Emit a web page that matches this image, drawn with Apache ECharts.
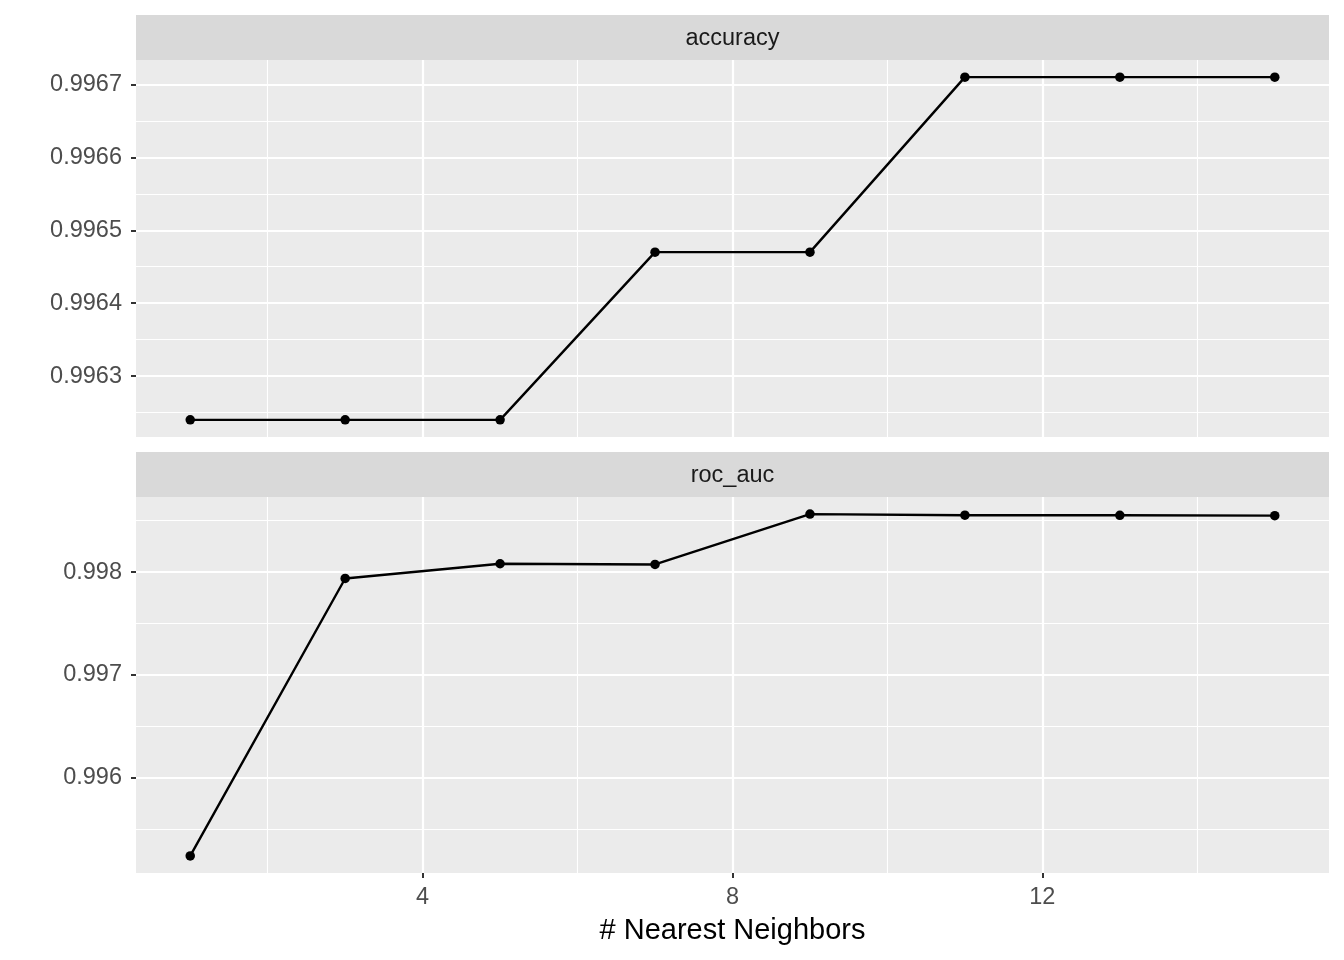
<!DOCTYPE html>
<html>
<head>
<meta charset="utf-8">
<script src="https://cdn.jsdelivr.net/npm/echarts@6/dist/echarts.min.js"></script>
<style>
html,body{margin:0;padding:0;background:#fff;}
#chart{width:1344px;height:960px;}
</style>
</head>
<body>
<div id="chart"></div>
<script>
// ---- data ----
const neighbors = [1, 3, 5, 7, 9, 11, 13, 15];
const accuracy = [0.99624, 0.99624, 0.99624, 0.99647, 0.99647, 0.99671, 0.99671, 0.99671];
const rocAuc = [0.99524, 0.997938, 0.998081, 0.998074, 0.998564, 0.998553, 0.998552, 0.998549];
const panelNames = ['accuracy', 'roc_auc'];
const xMajorTicks = [4, 8, 12];
const xMinorTicks = [2, 6, 10, 14];
const accMajorTicks = [0.9963, 0.9964, 0.9965, 0.9966, 0.9967];
const accMinorTicks = [0.99625, 0.99635, 0.99645, 0.99655, 0.99665];
const rocMajorTicks = [0.996, 0.997, 0.998];
const rocMinorTicks = [0.9955, 0.9965, 0.9975, 0.9985];
const xTitle = '# Nearest Neighbors';

// ---- helpers ----
function expand(arr) {
  const mn = Math.min(...arr), mx = Math.max(...arr);
  const r = mx - mn;
  return [mn - 0.05 * r, mx + 0.05 * r];
}
const xExt = expand(neighbors);
const accExt = expand(accuracy);
const rocExt = expand(rocAuc);

const FONT = 'Liberation Sans, Arial, Helvetica, sans-serif';
const AXFS = 23.5;
const PL = 136, PR = 1329;
const grids = [
  {left: PL, width: PR - PL, top: 60, height: 377},
  {left: PL, width: PR - PL, top: 497, height: 376}
];

function xAxisDef(gridIndex, ticks, major, showLabels) {
  return {
    type: 'value', gridIndex: gridIndex, position: 'bottom', min: xExt[0], max: xExt[1], z: major ? 1 : 0,
    axisLine: {show: false},
    axisTick: {show: major && showLabels, customValues: ticks, length: 5, lineStyle: {color: '#333333', width: 2}},
    axisLabel: {show: major && showLabels, customValues: ticks, margin: 13, color: '#4D4D4D', fontSize: AXFS, fontFamily: FONT},
    splitLine: {show: true, lineStyle: {color: '#FFFFFF', width: major ? 2.2 : 1.1}},
    name: (major && showLabels) ? xTitle : '',
    nameLocation: 'middle', nameGap: 43,
    nameTextStyle: {color: '#000000', fontSize: 29, fontFamily: FONT}
  };
}
function yAxisDef(gridIndex, ext, ticks, major, digits) {
  return {
    type: 'value', gridIndex: gridIndex, min: ext[0], max: ext[1], position: 'left', z: major ? 1 : 0,
    axisLine: {show: false},
    axisTick: {show: major, customValues: ticks, length: 5, lineStyle: {color: '#333333', width: 2}},
    axisLabel: {show: major, customValues: ticks, margin: 14, color: '#4D4D4D', fontSize: AXFS, fontFamily: FONT,
      padding: [2, 0, 0, 0], formatter: v => v.toFixed(digits)},
    splitLine: {show: true, lineStyle: {color: '#FFFFFF', width: major ? 2.2 : 1.1}}
  };
}

const xAxes = [
  xAxisDef(0, xMinorTicks, false, false),
  xAxisDef(0, xMajorTicks, true, false),
  xAxisDef(1, xMinorTicks, false, false),
  xAxisDef(1, xMajorTicks, true, true)
];
const yAxes = [
  yAxisDef(0, accExt, accMinorTicks, false, 4),
  yAxisDef(0, accExt, accMajorTicks, true, 4),
  yAxisDef(1, rocExt, rocMinorTicks, false, 3),
  yAxisDef(1, rocExt, rocMajorTicks, true, 3)
];

function seriesDef(name, vals, xi, yi) {
  return {
    name: name, type: 'line', xAxisIndex: xi, yAxisIndex: yi,
    data: neighbors.map((n, i) => [n, vals[i]]),
    symbol: 'circle', symbolSize: 9.5, showSymbol: true,
    lineStyle: {color: '#000000', width: 2.4},
    itemStyle: {color: '#000000', borderWidth: 0},
    z: 5
  };
}

const strips = grids.map((g, i) => ([
  {type: 'rect', shape: {x: g.left, y: g.top - 45, width: g.width, height: 45}, style: {fill: '#D9D9D9'}, z: 0},
  {type: 'text', x: g.left + g.width / 2, y: g.top - 21,
   style: {text: panelNames[i], fill: '#1A1A1A', font: AXFS + 'px ' + FONT, textAlign: 'center', textVerticalAlign: 'middle'}, z: 1}
])).flat();

const chart = echarts.init(document.getElementById('chart'), null, {renderer: 'canvas'});
chart.setOption({
  animation: false,
  backgroundColor: '#FFFFFF',
  grid: grids.map(g => Object.assign({show: true, backgroundColor: '#EBEBEB', borderWidth: 0}, g)),
  xAxis: xAxes,
  yAxis: yAxes,
  series: [
    seriesDef(panelNames[0], accuracy, 1, 1),
    seriesDef(panelNames[1], rocAuc, 3, 3)
  ],
  graphic: strips
});
</script>
</body>
</html>
